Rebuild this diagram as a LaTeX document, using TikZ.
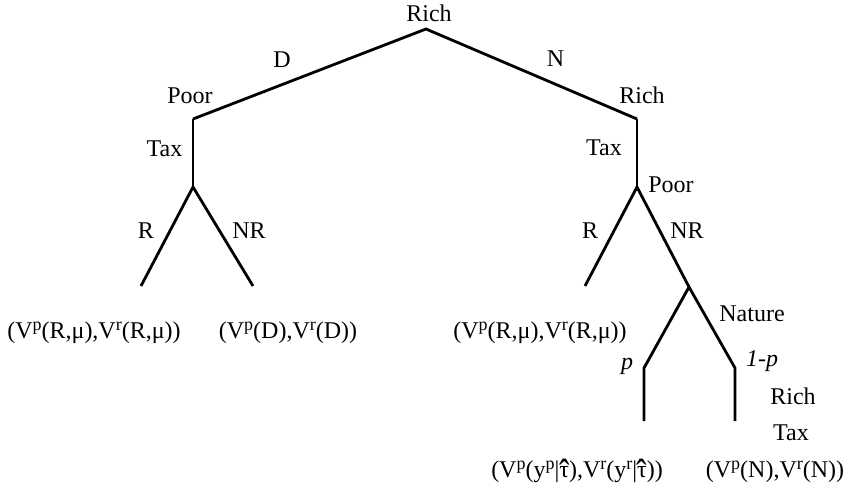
\documentclass[tikz,border=0pt]{standalone}
\usepackage{fontspec}
\setmainfont{Liberation Serif}
\newcommand\sUp[1]{\raisebox{0.33em}{\fontsize{18}{18}\selectfont #1}}
\newcommand\hatTau{\ooalign{τ\cr\hidewidth\raisebox{-0.43em}{\scalebox{1.3}[1.7]{ˆ}}\hidewidth\cr}}
\begin{document}
\begin{tikzpicture}[x=1pt,y=-1pt,
  edge/.style={line width=2.8pt,line join=miter,line cap=butt},
  lbl/.style={anchor=base,inner sep=0pt,font=\fontsize{24}{28}\selectfont},
  pay/.style={anchor=base,inner sep=0pt,font=\fontsize{24}{28}\selectfont}]
\useasboundingbox (0,0) rectangle (849,491);
% tree points
\coordinate (root) at (426,29);
\coordinate (L) at (193,119);
\coordinate (R) at (637,119);
\coordinate (LT) at (193,187);
\coordinate (RT) at (637,187);
\coordinate (LL) at (141,286);
\coordinate (LR) at (253,286);
\coordinate (RL) at (585,286);
\coordinate (NAT) at (689,287);
\coordinate (P1) at (644,368);
\coordinate (P2) at (644,421);
\coordinate (Q1) at (735,368);
\coordinate (Q2) at (735,421);
% edges
\draw[edge] (L) -- (root) -- (R);
\draw[edge] (L) -- (LT);
\draw[edge] (LL) -- (LT) -- (LR);
\draw[edge] (R) -- (RT);
\draw[edge] (RL) -- (RT) -- (NAT);
\draw[edge] (P2) -- (P1) -- (NAT) -- (Q1) -- (Q2);
% labels
\node[lbl] (t1) at (429,21) {Rich};
\node[lbl] (t2) at (282,67) {D};
\node[lbl] (t3) at (190,103) {Poor};
\node[lbl] (t4) at (164.5,156) {Tax};
\node[lbl] (t5) at (555.5,66) {N};
\node[lbl] (t6) at (642,103) {Rich};
\node[lbl] (t7) at (604,155) {Tax};
\node[lbl] (t8) at (671,192) {Poor};
\node[lbl] (t9) at (146,238) {R};
\node[lbl] (t10) at (249,238) {NR};
\node[lbl] (t11) at (590,238) {R};
\node[lbl] (t12) at (687,238) {NR};
\node[lbl] (t13) at (752,321) {Nature};
\node[lbl] (t14) at (627,369) {\textit{p}};
\node[lbl] (t15) at (762,366) {\textit{1-p}};
\node[lbl] (t16) at (793,404) {Rich};
\node[lbl] (t17) at (791,440) {Tax};
% payoffs
\node[pay] (p1) at (94,338) {(V\sUp{p}(R,μ),V\sUp{r}(R,μ))};
\node[pay] (p2) at (288,338) {(V\sUp{p}(D),V\sUp{r}(D))};
\node[pay] (p3) at (540,338) {(V\sUp{p}(R,μ),V\sUp{r}(R,μ))};
\node[pay] (p4) at (577,477) {(V\sUp{p}(y\sUp{p}|\hatTau),V\sUp{r}(y\sUp{r}|\hatTau))};
\node[pay] (p5) at (775,477) {(V\sUp{p}(N),V\sUp{r}(N))};
\end{tikzpicture}
\end{document}
